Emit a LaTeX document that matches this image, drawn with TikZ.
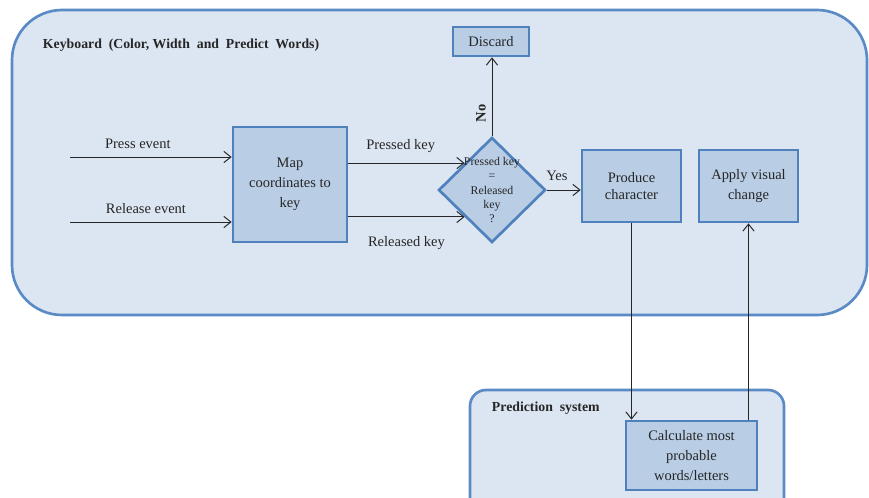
\documentclass[tikz,border=0pt]{standalone}
\usepackage{fontspec}
\setmainfont{Liberation Serif}
\usetikzlibrary{positioning,shapes.geometric,arrows.meta}
\definecolor{frame}   {HTML}{5B8BC6}
\definecolor{panel}   {HTML}{DCE6F2}
\definecolor{boxfill} {HTML}{B9CDE5}
\definecolor{boxline} {HTML}{4F81BD}
\definecolor{ink}     {HTML}{262626}
\tikzset{
  >={Straight Barb[length=5pt,width=8pt]},
  every node/.style={font=\fontsize{10.3}{14}\selectfont, text=ink},
  % --- nodes
  blk/.style  = {draw=boxline, fill=boxfill, line width=1.9pt, align=center, inner sep=2pt},
  dec/.style  = {diamond, draw=boxline, fill=boxfill, line width=1.9pt, inner sep=0pt,
                 minimum width=2.675cm, minimum height=2.625cm},
  dtxt/.style = {font=\fontsize{8.4}{10}\selectfont, align=center, inner sep=0pt},
  grp/.style  = {draw=frame, fill=panel, line width=1.9pt},
  ttl/.style  = {font=\fontsize{9.8}{11}\selectfont\bfseries, anchor=west},
  % --- edges
  e/.style    = {->, draw=ink, line width=0.7pt},
}
\begin{document}
\begin{tikzpicture}[x=0.025cm, y=-0.025cm]
  \clip (0,0) rectangle (869,498);
  \fill[white] (0,0) rectangle (869,498);

  % containers
  \draw[grp, rounded corners=1.25cm] (12,10) rectangle (867,315);
  \draw[grp, rounded corners=0.4cm] (470,390) rectangle (784,540);
  \node[ttl] (kbd) at (38,45) {Keyboard\ \ (Color,\ Width\ \ and\ \ Predict\ \ Words)};
  \node[ttl] (pred) at (487,408) {Prediction\ \ system};

  % blocks
  \node[blk, minimum width=2.85cm, minimum height=2.875cm] (map) at (290,184.5)
    {Map\\coordinates to\\key};
  \node[dec, label={[dtxt]center:{Pressed key\\=\\Released\\key\\?}}] (dia) at (492,190) {};
  \node[blk, minimum width=1.9cm, minimum height=0.725cm] (disc) at (491,41.5) {Discard};
  \node[blk, minimum width=2.475cm, minimum height=1.8cm,
        font=\fontsize{10.3}{12.3}\selectfont] (prod) at (631.5,186) {Produce\\character};
  \node[blk, minimum width=2.475cm, minimum height=1.8cm] (apply) at (748.5,186)
    {Apply visual\\change};
  \node[blk, minimum width=3.275cm, minimum height=1.725cm] (calc) at (691.5,455.5)
    {Calculate most\\probable\\words/letters};

  % inputs
  \coordinate (pin) at (70,157);
  \coordinate (rin) at (70,222);
  \draw[e] (pin) -- (pin -| map.west) node[pos=0.42, above=2pt] {Press event};
  \draw[e] (rin) -- (rin -| map.west) node[pos=0.47, above=2pt] {Release event};

  % flow
  \draw[e] (map.east |- dia.north west) -- (dia.north west)
    node[pos=0.45, above=4pt] {Pressed key};
  \draw[e] (map.east |- dia.south west) -- (dia.south west)
    node[pos=0.5, below=10pt] {Released key};
  \draw[e] (dia.north) -- (dia.north |- disc.south)
    node[pos=0.29, rotate=90, anchor=south, inner sep=4pt,
         font=\fontsize{10.3}{14}\selectfont\bfseries] {No};
  \draw[e] (dia.east) -- (dia.east -| prod.west) node[pos=0.3, above=3pt] {Yes};
  \draw[e] (prod.south) -- (prod.south |- calc.north);
  \draw[e] (calc.north -| apply.south) -- (apply.south);
\end{tikzpicture}
\end{document}
